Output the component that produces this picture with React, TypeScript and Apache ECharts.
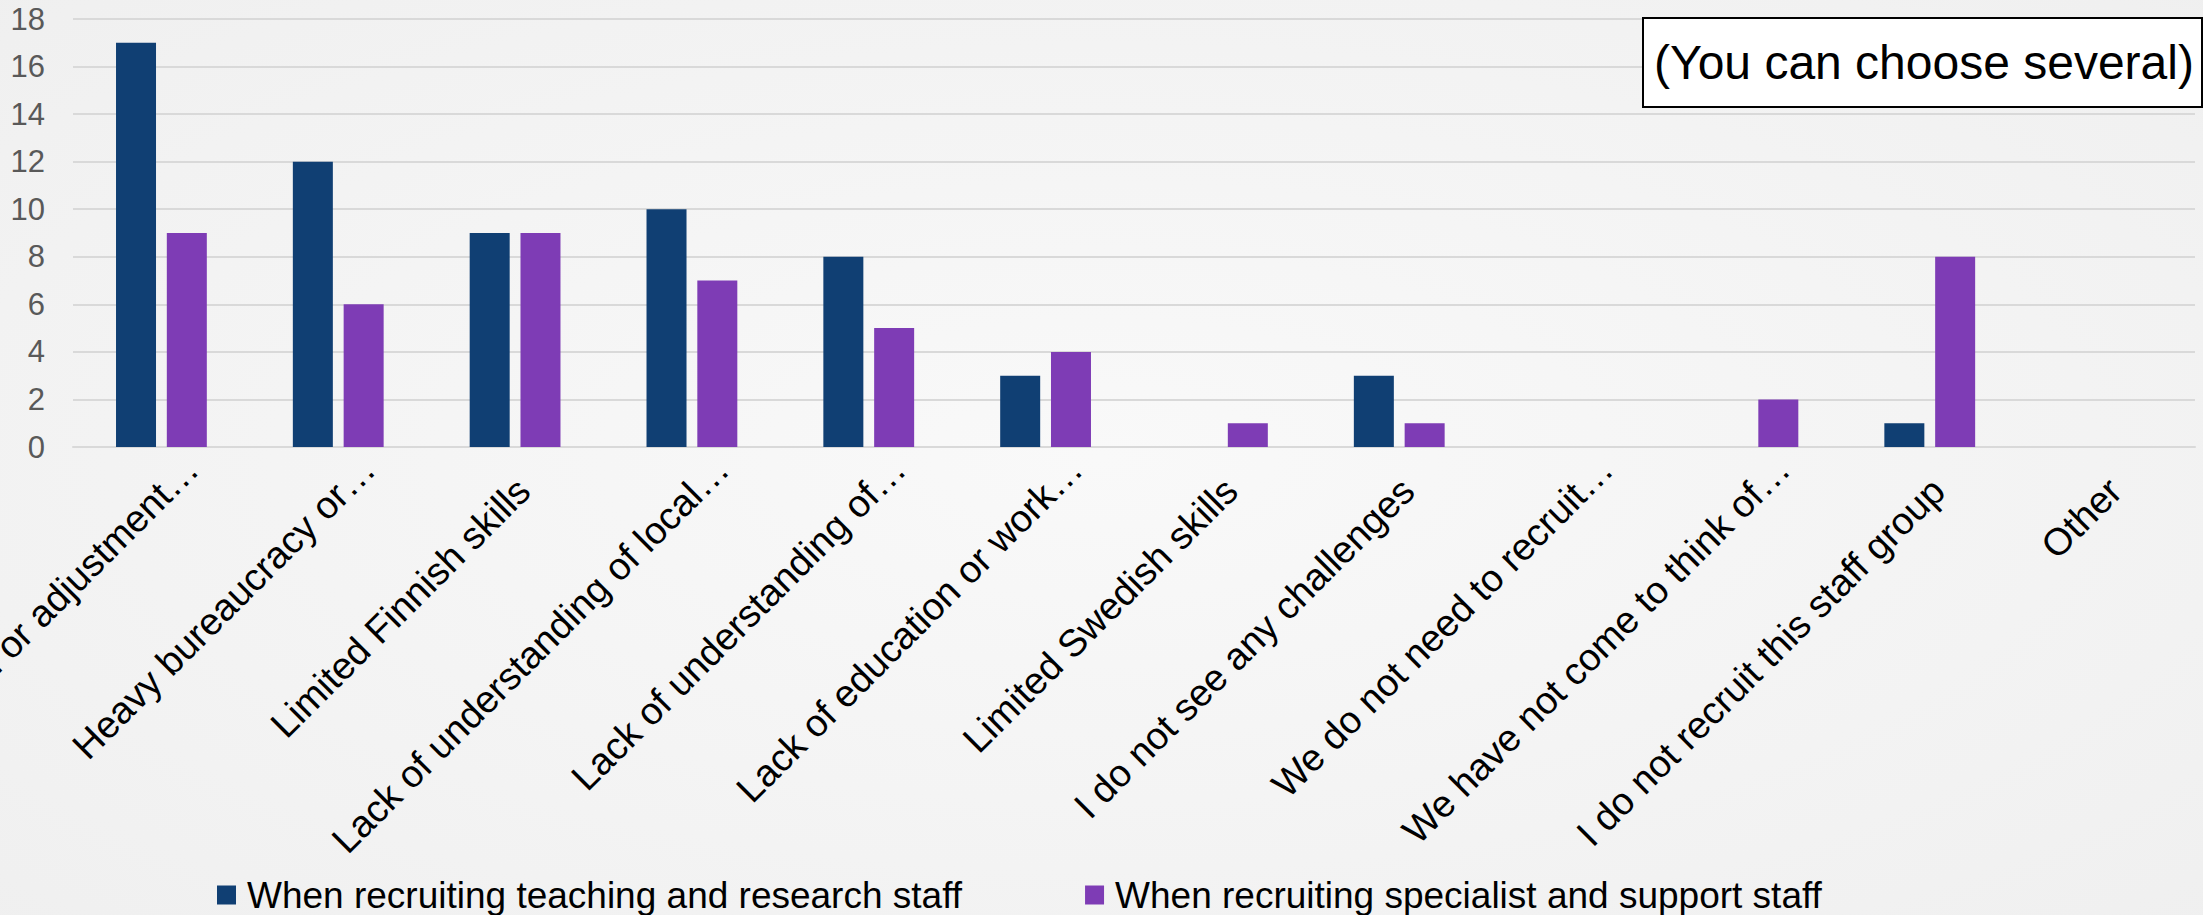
import React, { useEffect, useRef } from "react";
import * as echarts from "echarts";

const categories = [
  "Lack of support for relocation or adjustment…",
  "Heavy bureaucracy or…",
  "Limited Finnish skills",
  "Lack of understanding of local…",
  "Lack of understanding of…",
  "Lack of education or work…",
  "Limited Swedish skills",
  "I do not see any challenges",
  "We do not need to recruit…",
  "We have not come to think of…",
  "I do not recruit this staff group",
  "Other",
];
const teachingResearch = [17, 12, 9, 10, 8, 3, 0, 3, 0, 0, 1, 0];
const specialistSupport = [9, 6, 9, 7, 5, 4, 1, 1, 0, 2, 8, 0];
const seriesNames = [
  "When recruiting teaching and research staff",
  "When recruiting specialist and support staff",
];
const yTicks = { min: 0, max: 18, interval: 2 };
const noteText = "(You can choose several)";

const FONT = "Arial, 'Liberation Sans', Helvetica, sans-serif";

export default function App() {
  const ref = useRef<HTMLDivElement>(null);
  useEffect(() => {
    if (!ref.current) return;
    const chart = echarts.init(ref.current, null, { renderer: "svg" });
    const catData = categories.map((c) => {
      const truncated = c.endsWith("…");
      return {
        value: c,
        textStyle: {
          padding: truncated ? [0, -43, 12, 0] : [0, -12, 0, 0],
        },
      };
    });
    chart.setOption({
      animation: false,
      backgroundColor: {
        type: "radial",
        x: 0.5,
        y: 0.5,
        r: 0.75,
        colorStops: [
          { offset: 0, color: "#f9f9f9" },
          { offset: 1, color: "#efefef" },
        ],
      },
      textStyle: { fontFamily: FONT },
      grid: {
        left: 73,
        right: 8,
        top: 19,
        bottom: 468,
        containLabel: false,
        outerBoundsMode: "none",
      },
      legend: {
        left: 217,
        top: 874,
        itemWidth: 19,
        itemHeight: 19,
        itemGap: 123,
        icon: "rect",
        padding: 0,
        textStyle: {
          fontSize: 37,
          lineHeight: 42,
          color: "#000",
          fontFamily: FONT,
          padding: [0, 0, 0, 6],
        },
        data: seriesNames,
      },
      xAxis: {
        type: "category",
        data: catData,
        axisLine: { show: true, lineStyle: { color: "#d9d9d9", width: 2 } },
        axisTick: { show: false },
        axisLabel: {
          interval: 0,
          rotate: 45,
          fontSize: 38,
          color: "#000",
          margin: 46,
          fontFamily: FONT,
        },
      },
      yAxis: {
        type: "value",
        min: yTicks.min,
        max: yTicks.max,
        interval: yTicks.interval,
        axisLine: { show: false },
        axisTick: { show: false },
        splitLine: { lineStyle: { color: "#d9d9d9", width: 2 } },
        axisLabel: { fontSize: 31, color: "#595959", margin: 28, fontFamily: FONT },
      },
      series: [
        {
          name: seriesNames[0],
          type: "bar",
          data: teachingResearch,
          barWidth: 40,
          barGap: "27%",
          itemStyle: { color: "#103F73" },
        },
        {
          name: seriesNames[1],
          type: "bar",
          data: specialistSupport,
          barWidth: 40,
          barGap: "27%",
          itemStyle: { color: "#7E3CB5" },
        },
      ],
      graphic: [
        {
          type: "rect",
          left: 1642,
          top: 17,
          shape: { width: 559, height: 89 },
          style: { fill: "#ffffff", stroke: "#000000", lineWidth: 2 },
          z: 100,
        },
        {
          type: "text",
          x: 1924,
          y: 62,
          style: {
            text: noteText,
            fontSize: 48,
            fontFamily: FONT,
            fill: "#000",
            align: "center",
            verticalAlign: "middle",
          },
          z: 101,
        },
      ],
    });
    return () => chart.dispose();
  }, []);
  return (
    <div
      ref={ref}
      style={{ position: "absolute", left: 0, top: 0, width: 2203, height: 915 }}
    />
  );
}
